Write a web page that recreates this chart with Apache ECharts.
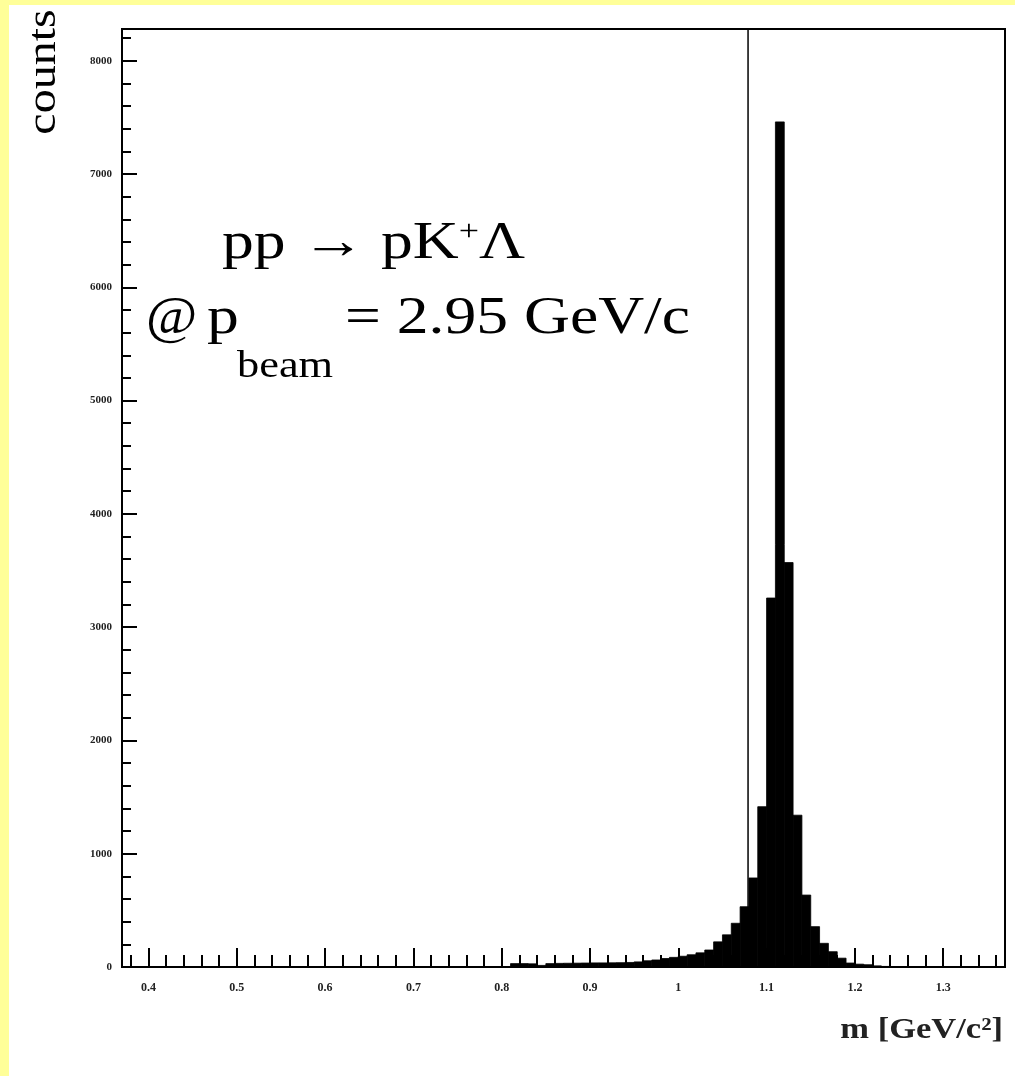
<!DOCTYPE html>
<html>
<head>
  <meta charset="utf-8">
  <title>pp -> pK+Lambda missing mass</title>
  <script src="https://cdn.jsdelivr.net/npm/echarts/dist/echarts.min.js"></script>
  <style>
    html, body { margin: 0; padding: 0; background: #fff; }
    #chart { width: 1015px; height: 1076px; }
    .strip { position: absolute; background: #ffff99; }
  </style>
</head>
<body>
  <div id="chart"></div>
  <div class="strip" style="left:0;top:0;width:1015px;height:5px"></div>
  <div class="strip" style="left:0;top:0;width:9px;height:1076px"></div>

<script>
  // axis range of the histogram
  var massMin = 0.37;
  var massMax = 1.37;
  var countsMax = 8280;

  // bins of 10 MeV starting at 0.81 (everything outside is empty)
  var firstBinLow = 0.81;
  var binWidth = 0.01;
  var counts = [
    30, 30, 28, 14, 30, 32, 33, 34, 35, 36,      // 0.81 - 0.90
    36, 37, 38, 40, 45, 55, 62, 75, 85, 95,      // 0.91 - 1.00
    108, 125, 150, 222, 284, 386, 532, 786, 1415, 3257,  // 1.01 - 1.10
    7460, 3570, 1340, 635, 356, 209, 135, 78, 35, 25,    // 1.11 - 1.20
    20, 10, 5, 2                                 // 1.21 - 1.24
  ];

  // vertical cut line
  var cutMass = 1.079;

  var serif = '"Liberation Serif", "DejaVu Serif", serif';

  var bins = counts.map(function (c, i) {
    var lo = +(firstBinLow + i * binWidth).toFixed(2);
    return [lo, +(lo + binWidth).toFixed(2), c];
  });

  var chart = echarts.init(document.getElementById('chart'));

  chart.setOption({
    backgroundColor: '#fff',
    animation: false,
    grid: {
      left: 122, right: 10, top: 29, bottom: 109,
      show: true, borderColor: '#000', borderWidth: 2
    },
    xAxis: {
      type: 'value',
      min: massMin,
      max: massMax,
      splitNumber: 10,
      minInterval: 0.1,
      maxInterval: 0.1,
      splitLine: { show: false },
      axisLine: { lineStyle: { color: '#000', width: 2 } },
      axisTick: { inside: true, length: 19, lineStyle: { color: '#000', width: 2 } },
      minorTick: { show: true, splitNumber: 5, length: 12, lineStyle: { color: '#000', width: 2 } },
      axisLabel: {
        showMinLabel: false, showMaxLabel: false, margin: 15,
        fontFamily: serif, fontWeight: 'bold', fontSize: 12, color: '#222'
      }
    },
    yAxis: {
      type: 'value',
      min: 0,
      max: countsMax,
      interval: 1000,
      splitLine: { show: false },
      axisLine: { lineStyle: { color: '#000', width: 2 } },
      axisTick: { inside: true, length: 15, lineStyle: { color: '#000', width: 2 } },
      minorTick: { show: true, splitNumber: 5, length: 9, lineStyle: { color: '#000', width: 2 } },
      axisLabel: {
        showMaxLabel: false, margin: 10,
        formatter: function (v) { return String(v); },
        fontFamily: serif, fontWeight: 'bold', fontSize: 11, color: '#222'
      }
    },
    series: [
      {
        type: 'custom',
        data: bins,
        encode: { x: [0, 1], y: 2 },
        renderItem: function (params, api) {
          var p0 = api.coord([api.value(0), api.value(2)]);
          var p1 = api.coord([api.value(1), 0]);
          return {
            type: 'rect',
            shape: { x: p0[0], y: p0[1], width: p1[0] - p0[0], height: p1[1] - p0[1] },
            style: { fill: '#000', stroke: '#000', lineWidth: 0.8 }
          };
        }
      },
      {
        type: 'line',
        data: [[cutMass, 0], [cutMass, countsMax]],
        symbol: 'none',
        lineStyle: { color: '#000', width: 1.5 },
        z: 3
      }
    ],
    graphic: [
      {
        type: 'text', x: 44, y: 72, rotation: Math.PI / 2, scaleX: 1.2,
        style: { text: 'counts', font: '40px ' + serif, fill: '#000', align: 'center', verticalAlign: 'middle' }
      },
      {
        type: 'text', x: 222, y: 244, scaleX: 1.2,
        style: {
          text: '{m|pp \u2192 pK}{s|+}{m|\u039B}',
          align: 'left', verticalAlign: 'middle',
          rich: {
            m: { fontFamily: serif, fontSize: 53, lineHeight: 53, fill: '#000' },
            s: { fontFamily: serif, fontSize: 30, lineHeight: 30, verticalAlign: 'top', fill: '#000' }
          }
        }
      },
      {
        type: 'text', x: 146, y: 319, scaleX: 1.05,
        style: { text: '@', font: '53px ' + serif, fill: '#000', align: 'left', verticalAlign: 'middle' }
      },
      {
        type: 'text', x: 207, y: 319, scaleX: 1.2,
        style: { text: 'p', font: '53px ' + serif, fill: '#000', align: 'left', verticalAlign: 'middle' }
      },
      {
        type: 'text', x: 237, y: 367, scaleX: 1.2,
        style: { text: 'beam', font: '37px ' + serif, fill: '#000', align: 'left', verticalAlign: 'middle' }
      },
      {
        type: 'text', x: 345, y: 319, scaleX: 1.2,
        style: { text: '= 2.95 GeV/c', font: '53px ' + serif, fill: '#000', align: 'left', verticalAlign: 'middle' }
      },
      {
        type: 'text', x: 1003, y: 1030, scaleX: 1.15,
        style: { text: 'm [GeV/c\u00B2]', font: 'bold 30px ' + serif, fill: '#222', align: 'right', verticalAlign: 'middle' }
      }
    ]
  });
</script>
</body>
</html>
